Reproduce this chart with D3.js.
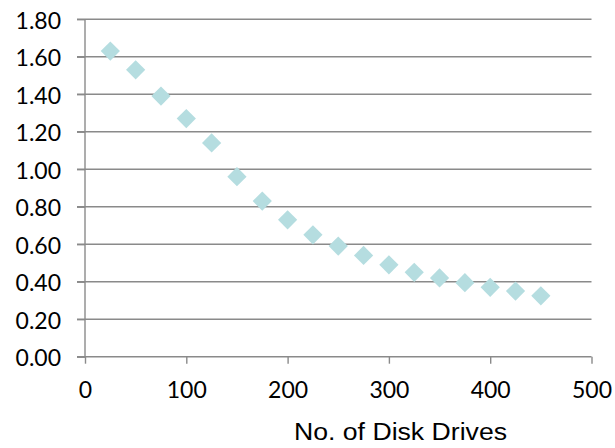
<!DOCTYPE html>
<html>
<head>
<meta charset="utf-8">
<script src="https://cdn.jsdelivr.net/npm/d3@7"></script>
<style>
  html, body { margin: 0; padding: 0; background: #fff; }
  svg { display: block; }
</style>
</head>
<body>
<svg id="chart" width="615" height="448"></svg>
<script>
const drives = [25, 50, 75, 100, 125, 150, 175, 200, 225, 250, 275, 300, 325, 350, 375, 400, 425, 450];
const values = [1.63, 1.53, 1.39, 1.27, 1.14, 0.96, 0.83, 0.73, 0.65, 0.59, 0.54, 0.49, 0.45, 0.42, 0.395, 0.37, 0.35, 0.325];
const xTicks = [0, 100, 200, 300, 400, 500];
const yTicks = [0, 0.2, 0.4, 0.6, 0.8, 1.0, 1.2, 1.4, 1.6, 1.8];
const xTitle = "No. of Disk Drives";

const svg = d3.select("#chart");
const x = d3.scaleLinear().domain([0, 500]).range([85, 591.5]);
const y = d3.scaleLinear().domain([0, 1.8]).range([356.7, 19.2]);

const gridColor = "#8a8a8a";

// horizontal gridlines
svg.append("g").selectAll("line").data(yTicks.filter(d => d > 0)).join("line")
  .attr("x1", 77).attr("x2", x(500))
  .attr("y1", d => y(d)).attr("y2", d => y(d))
  .attr("stroke", gridColor).attr("stroke-width", 1.4);

// y axis
const yAxis = svg.append("g").attr("transform", `translate(${x(0)},0)`)
  .call(d3.axisLeft(y).tickValues(yTicks).tickSize(8).tickFormat(d3.format(".2f")));
yAxis.select(".domain").attr("stroke", gridColor).attr("stroke-width", 1.4).attr("d", `M0,${y(1.8)}V${y(0)}`);
yAxis.selectAll(".tick line").attr("stroke", gridColor).attr("stroke-width", 1.4);
yAxis.selectAll(".tick text")
  .attr("x", -24).attr("dy", "0.4em")
  .attr("fill", "#000")
  .style("font-family", "Lato, sans-serif").style("font-size", "23px");

// x axis
const xAxis = svg.append("g").attr("transform", `translate(0,${y(0)})`)
  .call(d3.axisBottom(x).tickValues(xTicks).tickSize(7).tickFormat(d3.format("d")));
xAxis.select(".domain").attr("stroke", gridColor).attr("stroke-width", 1.4).attr("d", `M77,0H${x(500)}`);
xAxis.selectAll(".tick line").attr("stroke", gridColor).attr("stroke-width", 1.4);
xAxis.selectAll(".tick text")
  .attr("y", 25).attr("dy", "0.71em")
  .attr("fill", "#000")
  .style("font-family", "Lato, sans-serif").style("font-size", "23px");

// markers
const sym = d3.symbol().type(d3.symbolDiamond2 || d3.symbolDiamond).size(180);
svg.append("g").selectAll("rect").data(drives.map((d, i) => [d, values[i]])).join("rect")
  .attr("x", -6.8).attr("y", -6.8).attr("width", 13.6).attr("height", 13.6)
  .attr("transform", d => `translate(${x(d[0])},${y(d[1])}) rotate(45)`)
  .attr("fill", "#b5dde0");

// x title
svg.append("text")
  .attr("transform", "translate(400.5,440) scale(1.11,1)")
  .attr("text-anchor", "middle")
  .style("font-family", "'Liberation Sans', Arial, sans-serif").style("font-size", "24px")
  .attr("fill", "#000")
  .text(xTitle);
</script>
</body>
</html>
